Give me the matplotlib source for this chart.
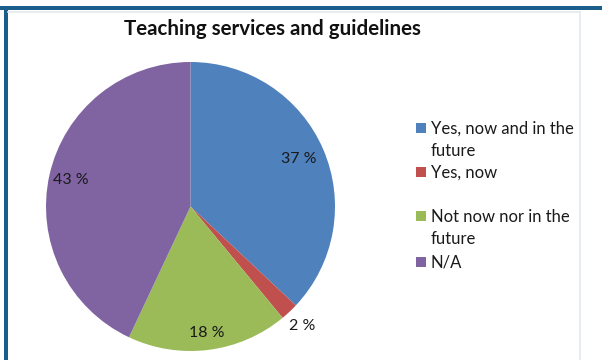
import matplotlib
matplotlib.use("Agg")
import numpy as np
import matplotlib.pyplot as plt
from matplotlib.patches import Rectangle
from matplotlib.lines import Line2D

title = "Teaching services and guidelines"
categories = ["Yes, now and in the\nfuture", "Yes, now", "Not now nor in the\nfuture", "N/A"]
values = [37, 2, 18, 43]
colors = ["#4F81BD", "#C0504D", "#9BBB59", "#8064A2"]
label_radius = [0.82, 1.13, 0.88, 0.85]

plt.rcParams["font.family"] = ["Lato", "DejaVu Sans"]

W, H = 602, 360
fig = plt.figure(figsize=(W / 100, H / 100), dpi=100)
fig.patch.set_facecolor("white")

# outer frame: dark blue on top and left, light grey inner box
fig.add_artist(Rectangle((0, (H - 9.5) / H), 1, 3.5 / H, transform=fig.transFigure,
                         facecolor="#1B5E8C", edgecolor="none"))
fig.add_artist(Rectangle((4 / W, 0), 3.5 / W, (H - 6) / H, transform=fig.transFigure,
                         facecolor="#1B5E8C", edgecolor="none"))
fig.add_artist(Line2D([8 / W, 580 / W], [(H - 12) / H] * 2, transform=fig.transFigure,
                      color="#E3E9EE", lw=1.2))
fig.add_artist(Line2D([580 / W] * 2, [0, (H - 12) / H], transform=fig.transFigure,
                      color="#E3E9EE", lw=1.2))

# pie area
cx, cy, r = 190.5, 206.5, 144.5
ax = fig.add_axes([(cx - r) / W, (H - cy - r) / H, 2 * r / W, 2 * r / H])
wedges, _ = ax.pie(values, colors=colors, startangle=90, counterclock=False,
                   radius=1.0, wedgeprops=dict(linewidth=0))
ax.set_xlim(-1, 1)
ax.set_ylim(-1, 1)
ax.axis("off")

for w, v, d in zip(wedges, values, label_radius):
    mid = np.deg2rad((w.theta1 + w.theta2) / 2)
    ax.text(d * np.cos(mid), d * np.sin(mid), f"{v} %", ha="center", va="center",
            fontsize=11.5, color="#1a1a1a")

fig.text(272 / W, (H - 29) / H, title, ha="center", va="center",
         fontsize=14.8, fontweight="bold", color="#111111")

# legend: one baseline per text line, square beside the first line of each entry
first_baselines = [134, 178, 222, 268]
line_step = 21.5
for y0, lab, c in zip(first_baselines, categories, colors):
    fig.add_artist(Rectangle((416 / W, (H - y0 + 1) / H), 10 / W, 10 / H,
                             transform=fig.transFigure, facecolor=c, edgecolor="none"))
    for i, line in enumerate(lab.split("\n")):
        fig.text(430.5 / W, (H - y0 - i * line_step) / H, line, ha="left",
                 va="baseline", fontsize=12, color="#1a1a1a")

fig.savefig("out.png", dpi=100, facecolor="white")
